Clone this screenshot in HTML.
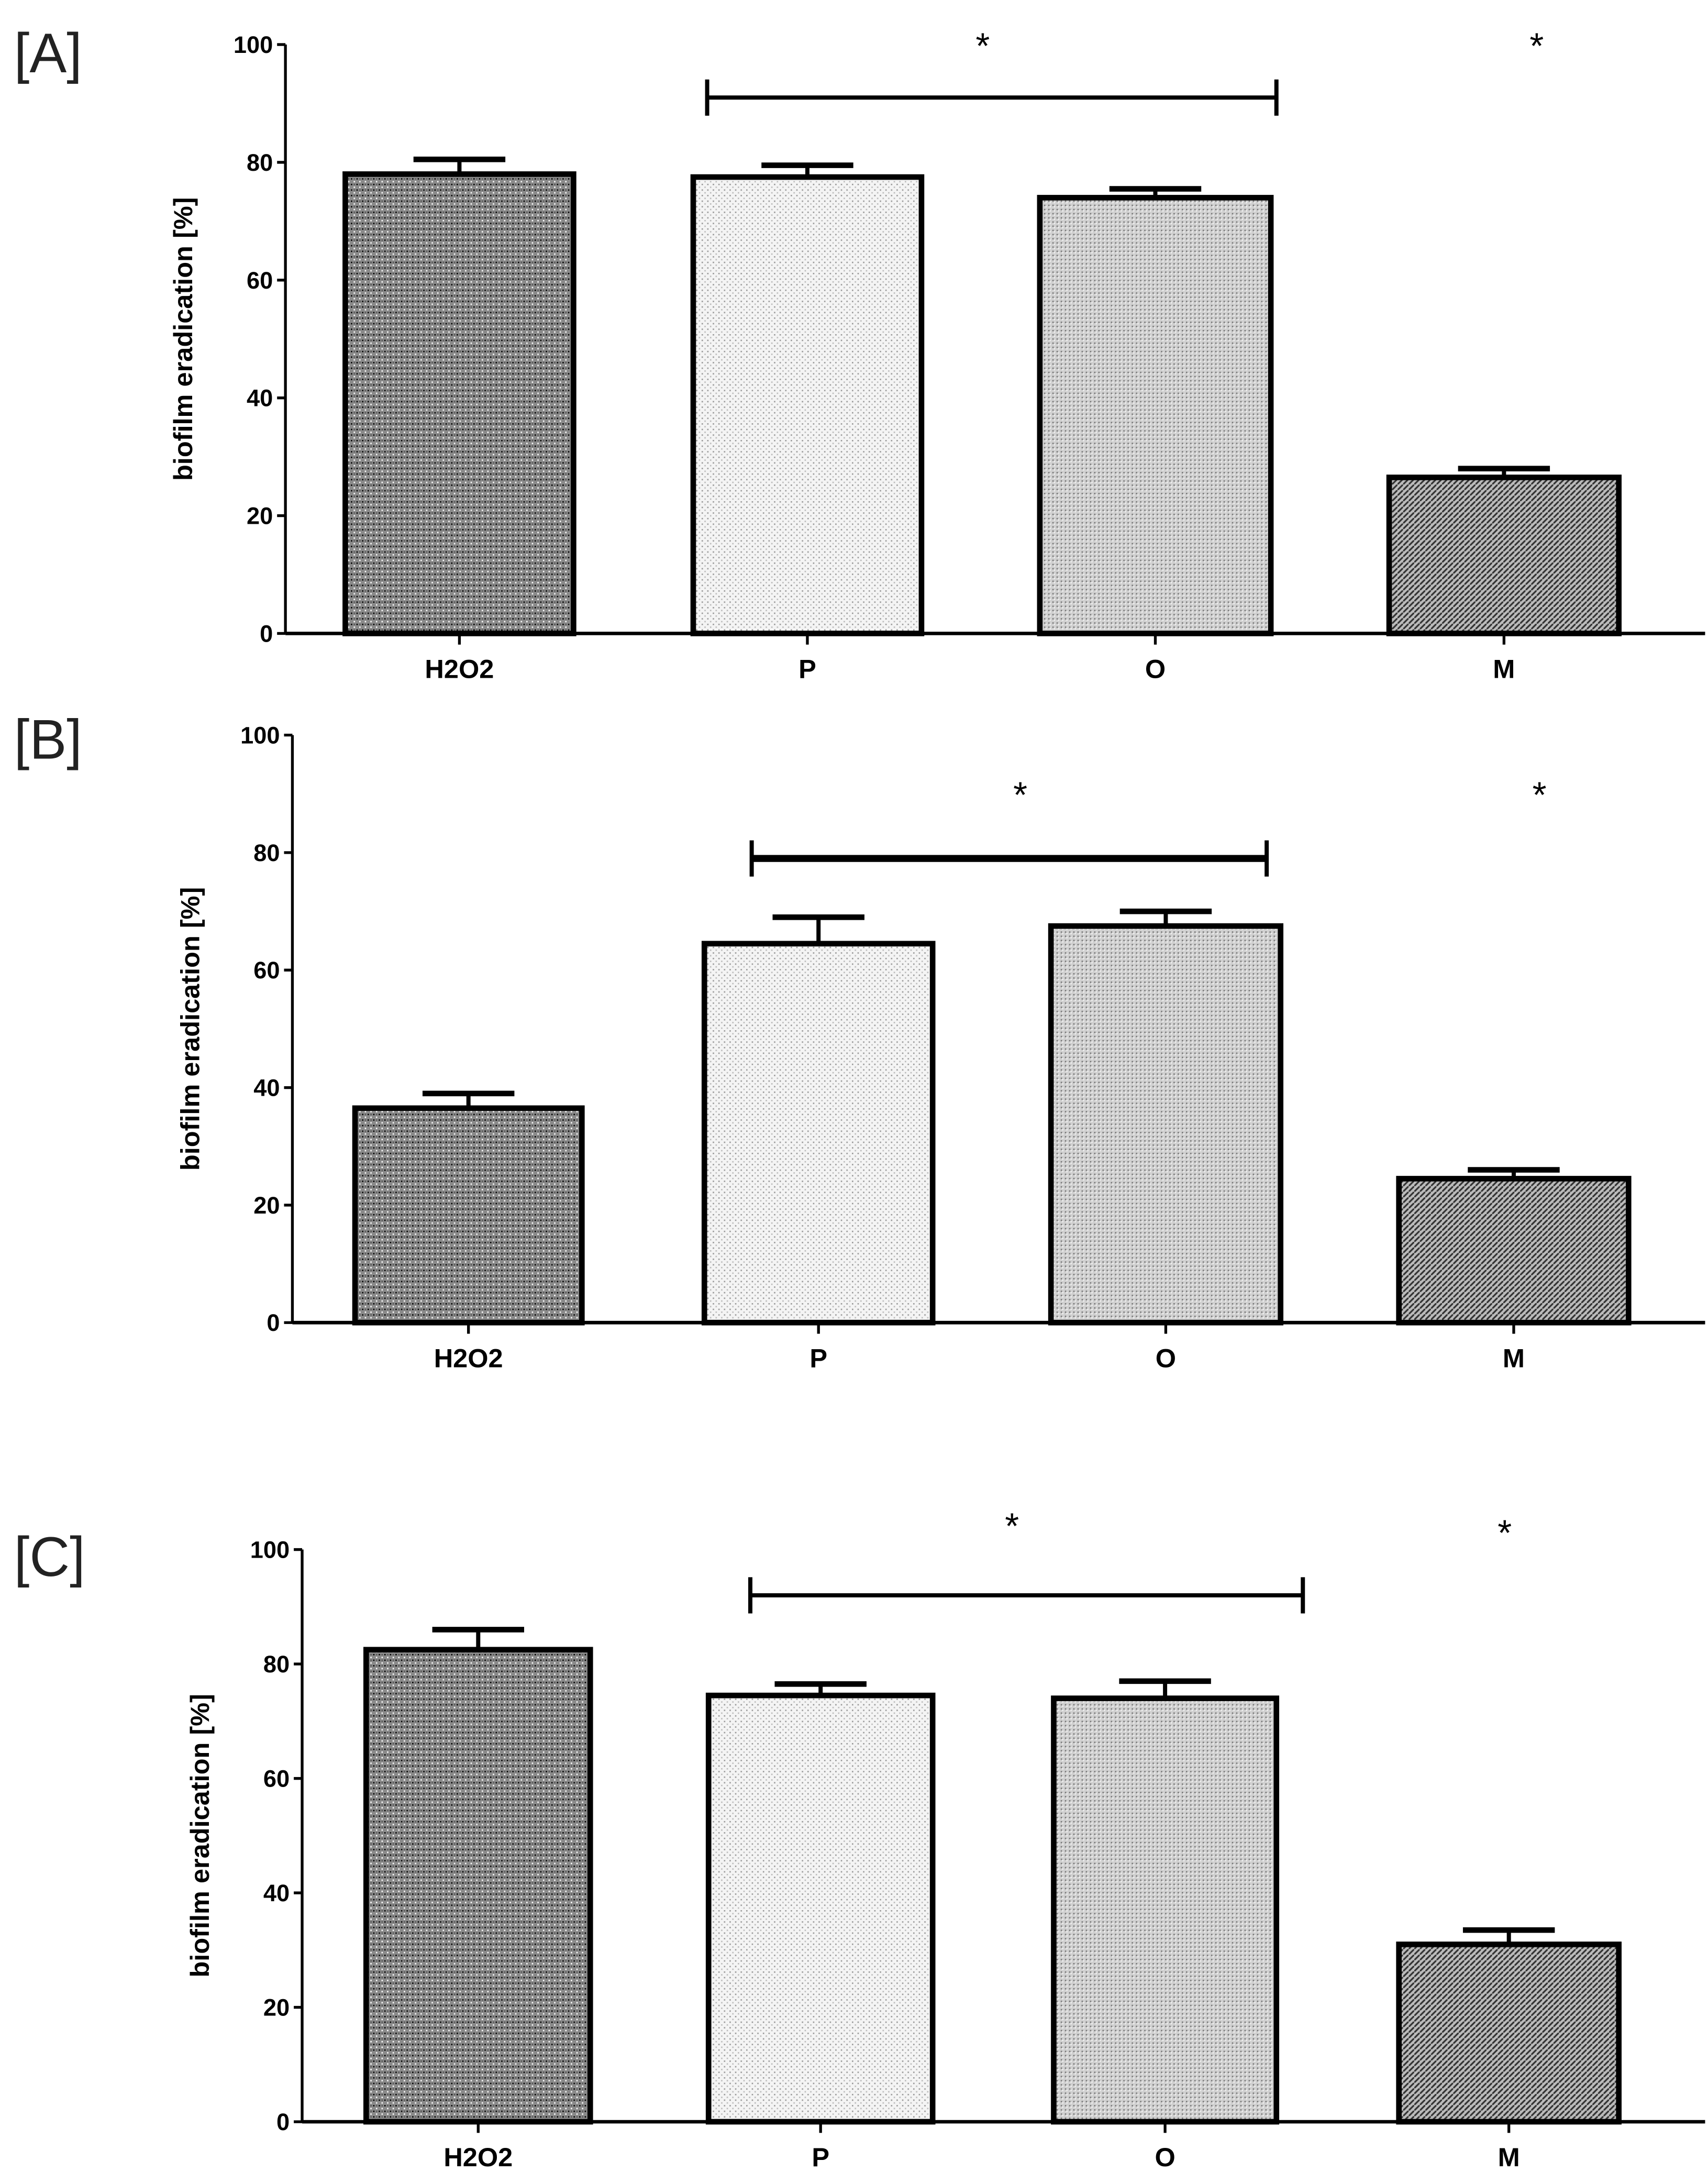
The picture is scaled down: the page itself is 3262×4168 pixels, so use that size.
<!DOCTYPE html>
<html><head><meta charset="utf-8">
<style>
html,body{margin:0;padding:0;background:#fff;}
svg{display:block;}
text{font-family:"Liberation Sans",sans-serif;}
</style></head>
<body>
<svg id="chart" width="3262" height="4168" viewBox="0 0 1227 1568" xmlns="http://www.w3.org/2000/svg">
<defs>
<pattern id="pH" width="4" height="4" patternUnits="userSpaceOnUse"><rect width="4" height="4" fill="#8a8a8a"/><rect width="1" height="1" fill="#000"/><rect x="2" y="2" width="1" height="1" fill="#fff"/><rect x="2" width="1" height="1" fill="#555"/></pattern>
<pattern id="pP" width="4" height="4" patternUnits="userSpaceOnUse"><rect width="4" height="4" fill="#f4f4f4"/><rect width="1" height="1" fill="#999"/><rect x="2" y="2" width="1" height="1" fill="#bbb"/></pattern>
<pattern id="pO" width="3" height="3" patternUnits="userSpaceOnUse"><rect width="3" height="3" fill="#d0d0d0"/><rect width="1" height="1" fill="#777"/><rect x="1" y="1" width="1" height="1" fill="#f0f0f0"/></pattern>
<pattern id="pM" width="4" height="4" patternUnits="userSpaceOnUse"><rect width="4" height="4" fill="#bbb"/><path d="M0,4 L4,0" stroke="#333" stroke-width="1.2"/></pattern>
</defs>
<g id="root"></g>
</svg>
<script>
const categories = ["H2O2","P","O","M"];
const panelLabels = ["[A]","[B]","[C]"];
const valuesA = [78, 77.5, 74, 26.5];
const errorsA = [2.5, 2, 1.5, 1.5];
const valuesB = [36.5, 64.5, 67.5, 24.5];
const errorsB = [2.5, 4.5, 2.5, 1.5];
const valuesC = [82.5, 74.5, 74, 31];
const errorsC = [3.5, 2, 3, 2.5];
const yTicks = [0, 20, 40, 60, 80, 100];
const bracketValues = [91, 79, 92];

const NS = "http://www.w3.org/2000/svg";
const root = document.getElementById("root");
const fills = ["url(#pH)","url(#pP)","url(#pO)","url(#pM)"];
const layouts = [
  {ax:205, top:32, bot:455, right:1225, bars:[[248,412],[498,662],[747,913],[998,1163]], br:[508,917], bw:3, stars:[[706,32],[1104,32]], lbl:[10,52], ytx:138, ylblY:487},
  {ax:210, top:528, bot:950, right:1225, bars:[[255,418],[506,670],[755,920],[1005,1170]], br:[540,910], bw:5, stars:[[733,570],[1106,570]], lbl:[10,545], ytx:143, ylblY:982},
  {ax:217, top:1113, bot:1524, right:1225, bars:[[263,424],[509,670],[757,917],[1005,1163]], br:[539,936], bw:3, stars:[[727,1095],[1081,1100]], lbl:[10,1132], ytx:150, ylblY:1556}
];
const allVals = [valuesA, valuesB, valuesC];
const allErrs = [errorsA, errorsB, errorsC];
function mk(tag, attrs, parent){const e=document.createElementNS(NS,tag);for(const k in attrs)e.setAttribute(k,attrs[k]);(parent||root).appendChild(e);return e;}

layouts.forEach((L, pi) => {
  const yScale = v => L.bot - (L.bot - L.top) * v / 100;
  const g = mk("g", {});
  
  
  const pl = mk("text", {x:L.lbl[0], y:L.lbl[1], "font-size":40, fill:"#222"}, g);
  pl.textContent = panelLabels[pi];
  
  
  const ya = mk("line", {x1:L.ax, y1:L.top, x2:L.ax, y2:L.bot, stroke:"#000", "stroke-width":2}, g);
  
  
  yTicks.forEach(t => {
    const y = yScale(t);
    mk("line", {x1:L.ax-6, y1:y, x2:L.ax, y2:y, stroke:"#000", "stroke-width":2}, g);
    const tl = mk("text", {x:L.ax-9, y:y+6, "font-size":17, "font-weight":"bold", "text-anchor":"end"}, g);
    tl.textContent = t;
    
    
  });
  const yt = mk("text", {x:L.ytx, y:(L.top+L.bot)/2, "font-size":19, "font-weight":"bold", "text-anchor":"middle", transform:`rotate(-90 ${L.ytx} ${(L.top+L.bot)/2})`}, g);
  yt.textContent = "biofilm eradication [%]";
  
  
  categories.forEach((c, i) => {
    const [x0, x1] = L.bars[i];
    const cx = (x0 + x1) / 2;
    const v = allVals[pi][i], e = allErrs[pi][i];
    const yv = yScale(v), ye = yScale(v + e);
    const eb = mk("line", {x1:cx, y1:yv, x2:cx, y2:ye, stroke:"#000", "stroke-width":3}, g);
    
    
    mk("line", {x1:cx-33, y1:ye, x2:cx+33, y2:ye, stroke:"#000", "stroke-width":4}, g);
    const r = mk("rect", {x:x0, y:yv, width:x1-x0, height:L.bot-yv, fill:fills[i], stroke:"#000", "stroke-width":4}, g);
    
    
    mk("line", {x1:cx, y1:L.bot, x2:cx, y2:L.bot+8, stroke:"#000", "stroke-width":2}, g);
    const xl = mk("text", {x:cx, y:L.ylblY, "font-size":19, "font-weight":"bold", "text-anchor":"middle"}, g);
    xl.textContent = c;
    
    
  });
  const xa = mk("line", {x1:L.ax, y1:L.bot, x2:L.right, y2:L.bot, stroke:"#000", "stroke-width":2.5}, g);
  
  
  const by = yScale(bracketValues[pi]);
  const br = mk("line", {x1:L.br[0], y1:by, x2:L.br[1], y2:by, stroke:"#000", "stroke-width":L.bw}, g);
  
  
  mk("line", {x1:L.br[0], y1:by-13, x2:L.br[0], y2:by+13, stroke:"#000", "stroke-width":3}, g);
  mk("line", {x1:L.br[1], y1:by-13, x2:L.br[1], y2:by+13, stroke:"#000", "stroke-width":3}, g);
  L.stars.forEach(s => {
    const st = mk("text", {x:s[0], y:s[1]+10, "font-size":26, "text-anchor":"middle"}, g);
    st.textContent = "*";
    
    
  });
});
</script>
</body></html>
